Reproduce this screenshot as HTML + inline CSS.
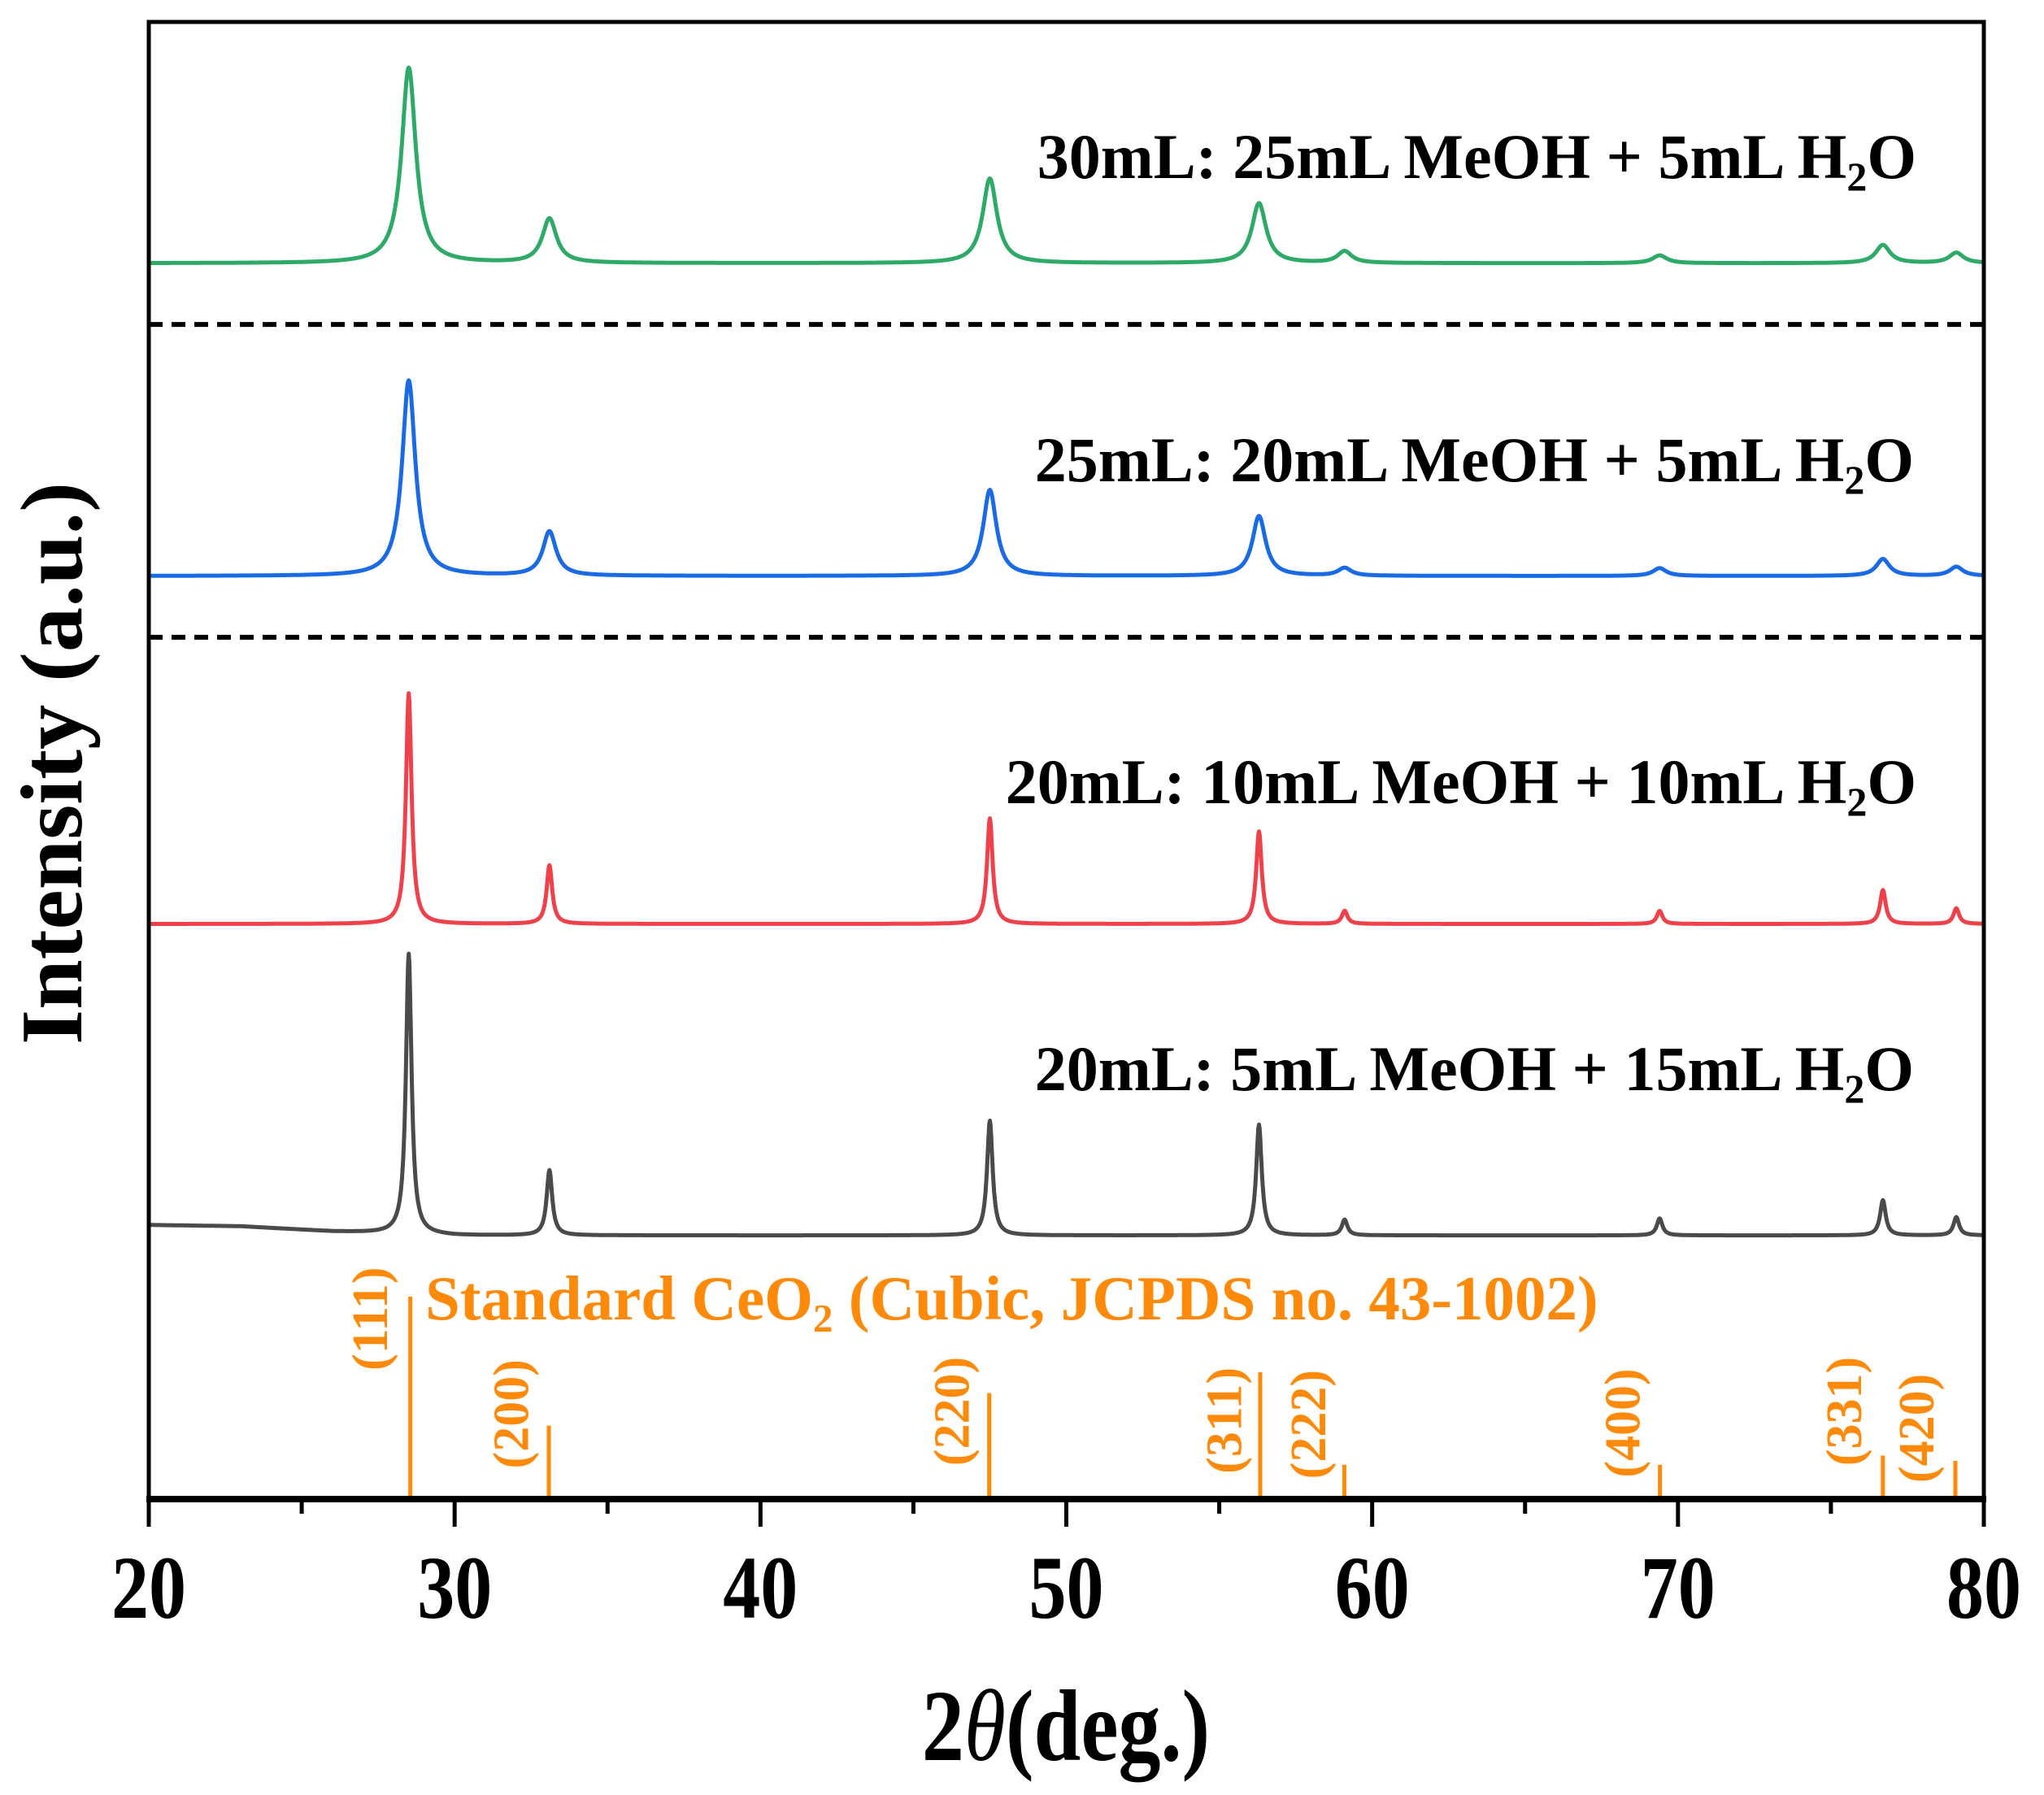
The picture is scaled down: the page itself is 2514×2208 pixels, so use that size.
<!DOCTYPE html>
<html><head><meta charset="utf-8"><style>
html,body{margin:0;padding:0;background:#fff}
svg{display:block}
text{font-family:"Liberation Serif",serif;font-weight:bold}
</style></head><body>
<svg id="chart" width="2514" height="2208" viewBox="0 0 2514 2208" xmlns="http://www.w3.org/2000/svg">
<g id="marks"></g>
<g id="axes"></g>
</svg>
<script>
// ---- data ----
const peakPositions = [28.5, 33.1, 47.5, 56.3, 59.1, 69.4, 76.7, 79.1];
const greenHeights = [150, 34, 65, 46, 9, 6, 14, 8];
const blueHeights = [150, 34, 66, 46, 6, 6, 13, 7];
const redHeights = [177, 45, 81, 71, 10, 10, 26, 12];
const blackHeights = [215, 50, 88, 85, 12, 13, 27, 14];
const greenBaseline = 202, blueBaseline = 442, redBaseline = 709, blackBaseline = 948;
const blackBgX = [20, 23, 26, 30, 80];
const blackBgOffset = [-8, -7, -3, 0, 0];
const greenWidth = 0.28, blueWidth = 0.26, redWidth = 0.11, blackWidth = 0.11;
const refPositions = [28.55, 33.08, 47.48, 56.34, 59.09, 69.41, 76.70, 79.07];
const refTops = [995, 1094, 1069, 1053, 1124, 1124, 1117, 1121];
const refLabels = ["(111)", "(200)", "(220)", "(311)", "(222)", "(400)", "(331)", "(420)"];
const xTicks = [20, 30, 40, 50, 60, 70, 80];
const xMinorTicks = [25, 35, 45, 55, 65, 75];

// ---- axes functions ----
const S = 1.603;
const X0 = 183, X1 = 2440, TOP = 27, BOT = 1844;
const xs = v => X0 + (v - 20) / 60 * (X1 - X0);
const ys = v => v * S; // v in reference display units
const NS = "http://www.w3.org/2000/svg";
const marks = document.getElementById('marks');
const axes = document.getElementById('axes');
function mk(tag, attrs, parent) {
  const e = document.createElementNS(NS, tag);
  for (const k in attrs) e.setAttribute(k, attrs[k]);
  parent.appendChild(e);
  return e;
}
function bg(x) {
  for (let i = 0; i < blackBgX.length - 1; i++) {
    if (x <= blackBgX[i + 1]) {
      const t = (x - blackBgX[i]) / (blackBgX[i + 1] - blackBgX[i]);
      return blackBgOffset[i] + t * (blackBgOffset[i + 1] - blackBgOffset[i]);
    }
  }
  return 0;
}
function series(name, color, base, heights, w, useBg) {
  let d = "";
  for (let x = 20; x <= 80.0001; x += 0.02) {
    let v = base + (useBg ? bg(x) : 0);
    for (let i = 0; i < peakPositions.length; i++) {
      const u = (x - peakPositions[i]) / w;
      v -= heights[i] / (1 + u * u);
    }
    d += (d ? "L" : "M") + xs(x).toFixed(1) + "," + ys(v).toFixed(1);
  }
  const p = mk('path', {d: d, fill: 'none', stroke: color, 'stroke-width': 5, 'stroke-linejoin': 'round'}, marks);
  
  
}
series('series-30ml', '#2eaa68', greenBaseline, greenHeights, greenWidth, false);
series('series-25ml', '#1a6ae6', blueBaseline, blueHeights, blueWidth, false);
series('series-20ml-10meoh', '#f0404a', redBaseline, redHeights, redWidth, false);
series('series-20ml-5meoh', '#4a4a4a', blackBaseline, blackHeights, blackWidth, true);

// dashed separators
[249, 489].forEach((yy, i) => {
  const l = mk('line', {x1: X0, x2: X1, y1: ys(yy), y2: ys(yy), stroke: '#000', 'stroke-width': 6, 'stroke-dasharray': '17 11'}, marks);
  
  
});

// reference sticks
const labelOff = [-29, -27, -27, -26, -26, -27, -28, -28];
const labelCy = [1012, 1085, 1083, 1090, 1093, 1092, 1083, 1096];
refPositions.forEach((p, i) => {
  const l = mk('line', {x1: xs(p), x2: xs(p), y1: BOT, y2: ys(refTops[i]), stroke: '#ff8a0a', 'stroke-width': 5}, marks);
  
  
  const cx = xs(p) + labelOff[i] * S + 18, cy = ys(labelCy[i]);
  const t = mk('text', {x: 0, y: 0, 'text-anchor': 'middle', 'font-size': 62, fill: '#ff8a0a',
    transform: `translate(${cx.toFixed(1)},${cy.toFixed(1)}) rotate(-90)`}, marks);
  t.textContent = refLabels[i];
  
  
});

// frame
const fr = mk('rect', {x: X0, y: TOP, width: X1 - X0, height: BOT - TOP, fill: 'none', stroke: '#000', 'stroke-width': 5}, axes);


const xl = mk('line', {x1: X0 - 3, x2: X1 + 3, y1: BOT, y2: BOT, stroke: '#000', 'stroke-width': 8}, axes);


xTicks.forEach(v => {
  const l = mk('line', {x1: xs(v), x2: xs(v), y1: BOT, y2: BOT + 34, stroke: '#000', 'stroke-width': 5}, axes);
  
  
  const t = mk('text', {x: 0, y: 0, 'text-anchor': 'middle', 'font-size': 92, fill: '#000',
    transform: `translate(${xs(v).toFixed(1)},1990) scale(1,1.2)`}, axes);
  t.textContent = v;
  
  
});
xMinorTicks.forEach(v => {
  const l = mk('line', {x1: xs(v), x2: xs(v), y1: BOT, y2: BOT + 18, stroke: '#000', 'stroke-width': 5}, axes);
  
  
});
</script>
<svg style="position:absolute;left:0;top:0" width="2514" height="2208" viewBox="0 0 2514 2208" xmlns="http://www.w3.org/2000/svg">
<text x="2357" y="219" text-anchor="end" font-size="78">30mL: 25mL MeOH + 5mL H<tspan font-size="50" dy="15">2</tspan><tspan dy="-15">O</tspan></text>
<text x="2354" y="592" text-anchor="end" font-size="78">25mL:  20mL MeOH + 5mL H<tspan font-size="50" dy="15">2</tspan><tspan dy="-15">O</tspan></text>
<text x="2357" y="988" text-anchor="end" font-size="78">20mL: 10mL MeOH + 10mL H<tspan font-size="50" dy="15">2</tspan><tspan dy="-15">O</tspan></text>
<text x="2354" y="1341" text-anchor="end" font-size="78">20mL: 5mL MeOH + 15mL H<tspan font-size="50" dy="15">2</tspan><tspan dy="-15">O</tspan></text>
<text x="523" y="1623" font-size="77" fill="#ff8a0a">Standard CeO<tspan font-size="49" dy="15">2</tspan><tspan dy="-15"> (Cubic, JCPDS no. 43-1002)</tspan></text>
<text transform="translate(1311,2165) scale(1,1.2)" text-anchor="middle" font-size="104">2<tspan font-style="italic" font-weight="normal">θ</tspan>(deg.)</text>
<text transform="translate(100,939) rotate(-90)" text-anchor="middle" font-size="108" textLength="692" lengthAdjust="spacingAndGlyphs">Intensity (a.u.)</text>
</svg>
</body></html>
